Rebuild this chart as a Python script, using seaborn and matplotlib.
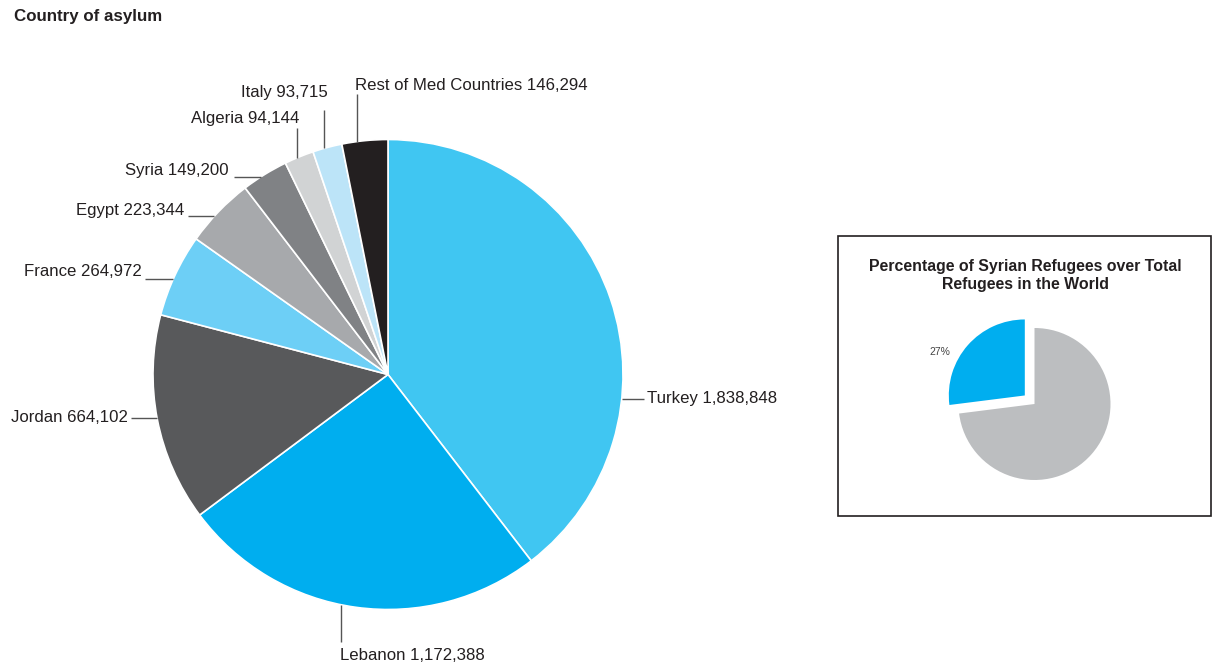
import numpy as np
import matplotlib
matplotlib.use("Agg")
import matplotlib.pyplot as plt
from matplotlib.patches import Rectangle
import seaborn as sns

# ---- data ----
countries = ["Turkey", "Lebanon", "Jordan", "France", "Egypt", "Syria",
             "Algeria", "Italy", "Rest of Med Countries"]
refugees = [1838848, 1172388, 664102, 264972, 223344, 149200, 94144, 93715, 146294]
inset_groups = ["Syrian refugees", "Other refugees"]
inset_share = [27, 73]

sns.set_theme(style="white")
plt.rcParams['font.family'] = ['Liberation Sans', 'DejaVu Sans']

W, H = 1221, 668
fig = plt.figure(figsize=(W / 100, H / 100), dpi=100)
fig.patch.set_facecolor("white")
ax = fig.add_axes([0, 0, 1, 1])

colors = sns.color_palette(["#40C6F2", "#00AEEF", "#58595B", "#6DCFF6", "#A7A9AC",
                            "#808285", "#D1D3D4", "#BCE4F8", "#231F20"])
cx, cy, R = 388, H - 374.5, 235
ax.pie(refugees, colors=colors, startangle=90, counterclock=False,
       center=(cx, cy), radius=R, frame=True,
       wedgeprops=dict(edgecolor="white", linewidth=1.2))
ax.set_xlim(0, W)
ax.set_ylim(0, H)
ax.axis("off")

TXT = "#231F20"
LINE = "#555555"
FS = 12.1

# label layout: (kind, leader coordinate in px, leader end px, text x px, text y px, ha)
layout = [
    ("h", 399, 644, 647, 399, "left"),    # Turkey
    ("v", 341, 642, 340, 656, "left"),    # Lebanon
    ("hl", 418, 131, 128, 417, "right"),  # Jordan
    ("hl", 279, 145, 142, 272, "right"),  # France
    ("hl", 216, 188, 184, 211, "right"),  # Egypt
    ("hl", 177, 234, 229, 171, "right"),  # Syria
    ("v", 297, 128, 299, 118, "right"),   # Algeria
    ("v", 324, 110, 328, 92, "right"),    # Italy
    ("v", 357, 94, 355, 85, "left"),      # Rest
]

for name, val, (kind, c, end, tx, ty, ha) in zip(countries, refugees, layout):
    if kind in ("h", "hl"):
        yd = H - c
        dx = np.sqrt(R ** 2 - (yd - cy) ** 2)
        xe = cx + dx if kind == "h" else cx - dx
        ax.plot([xe, end], [yd, yd], color=LINE, lw=1.0, solid_capstyle="butt")
    else:
        xd = c
        dy = np.sqrt(R ** 2 - (xd - cx) ** 2)
        if H - end > cy:
            ye = cy + dy
        else:
            ye = cy - dy
        ax.plot([xd, xd], [ye, H - end], color=LINE, lw=1.0, solid_capstyle="butt")
    ax.text(tx, H - ty, f"{name} {val:,}", ha=ha, va="center", fontsize=FS, color=TXT)

# title
ax.text(14, H - 17, "Country of asylum", ha="left", va="center", fontsize=12.2,
        fontweight="bold", color=TXT)

# inset box
ax.add_patch(Rectangle((838, H - 516), 373, 280, fill=False, edgecolor=TXT, lw=1.2))
ax.text(1025.5, H - 275.5, "Percentage of Syrian Refugees over Total\nRefugees in the World",
        ha="center", va="center", fontsize=11.4, fontweight="bold", color=TXT,
        linespacing=1.22)

# inset pie in its own axes
icx, icy, ir = 1034.5, 404, 76
half = 1.2 * ir
iax = fig.add_axes([(icx - half) / W, (H - icy - half) / H, 2 * half / W, 2 * half / H])
iax.pie(inset_share, colors=["#00AEEF", "#BCBEC0"], startangle=90, counterclock=True,
        explode=[0.17, 0], radius=1, wedgeprops=dict(edgecolor="none"))
iax.set_xlim(-1.2, 1.2)
iax.set_ylim(-1.2, 1.2)
iax.axis("off")

ax.text(940, H - 352, f"{inset_share[0]}%", ha="center", va="center", fontsize=7.5, color="#444444")

fig.savefig("out.png", dpi=100, facecolor="white")
